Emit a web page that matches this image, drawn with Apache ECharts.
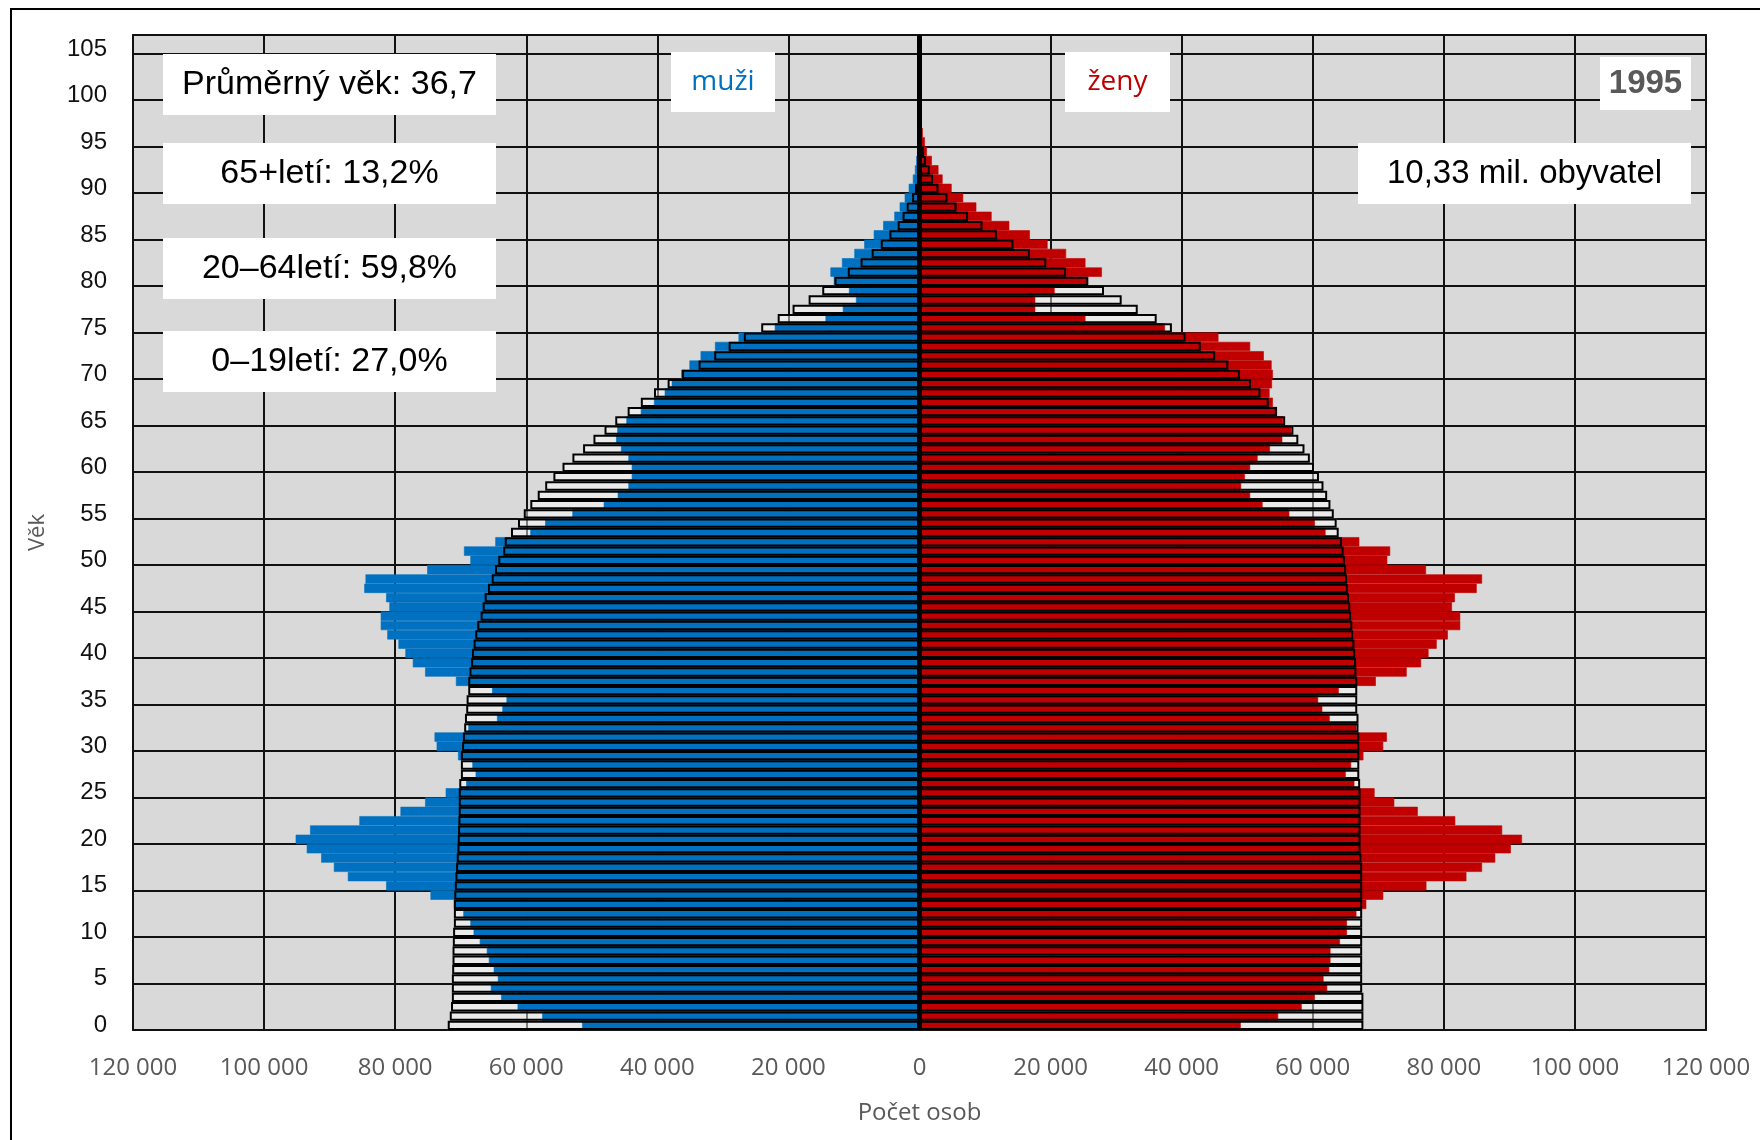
<!DOCTYPE html>
<html>
<head>
<meta charset="utf-8">
<title>Věková struktura 1995</title>
<script src="https://cdn.jsdelivr.net/npm/echarts@6/dist/echarts.min.js"></script>
<style>
  html, body { margin: 0; padding: 0; background: #fff; }
  #chart { width: 1760px; height: 1140px; }
</style>
</head>
<body>
<div id="chart"></div>
<script>
// ages 0..106 (category axis, label every 5 years)
const ages = [];
for (let i = 0; i <= 106; i++) ages.push(String(i));

// 1995 - men (blue bars)
const male1995 = [
  51480, 57560, 61320, 63830, 65400, 64330, 64960, 65710, 66020, 67090,
  68030, 68530, 69600, 71040, 74610, 81380, 87220, 89350, 91290, 93490,
  95180, 92980, 85460, 79190, 75430, 72290, 69160, 67720, 68220, 70410,
  73670, 73990, 68840, 64460, 63640, 63010, 65210, 70730, 75430, 77310,
  78440, 79500, 81200, 82200, 82200, 80880, 81380, 84710, 84520, 75110,
  68530, 69500, 64720, 59380, 57110, 52960, 48180, 46040, 44410, 43900,
  43900, 44410, 45540, 46290, 46110, 44720, 42520, 40510, 38870, 37800,
  36360, 35100, 33400, 31200, 27610, 22080, 14340, 11700, 9690, 10760,
  13080, 13590, 11830, 9940, 8430, 6980, 5540, 3840, 3020, 2260,
  1640, 1010, 690, 500, 300, 200, 120, 70, 40, 20,
  10, 0, 0, 0, 0, 0, 0
];

// 1995 - women (red bars)
const female1995 = [
  49010, 54720, 58310, 60320, 62200, 61640, 62520, 62700, 62700, 64150,
  65220, 65220, 66660, 68170, 70750, 77340, 83440, 85830, 87840, 90220,
  91920, 88900, 81740, 76020, 72440, 69430, 66350, 65030, 65850, 67730,
  70750, 71310, 66660, 62580, 61450, 60820, 63960, 69620, 74330, 76530,
  77660, 78910, 80610, 82500, 82500, 81240, 81680, 85010, 85830, 77280,
  71370, 71810, 67100, 61950, 60320, 56420, 52340, 50450, 49070, 49640,
  50450, 51580, 53470, 55350, 56740, 55480, 54540, 53910, 53410, 53780,
  53910, 53720, 52530, 50450, 45610, 37450, 25320, 17660, 17660, 20610,
  25630, 27830, 25320, 22370, 19540, 16840, 13700, 11000, 8670, 6660,
  4900, 3520, 2890, 1880, 1130, 820, 500, 300, 150, 80,
  40, 0, 0, 0, 0, 0, 0
];

// outlined bars (comparison profile) - men
const maleOutline = [
  71980, 71670, 71480, 71350, 71350, 71350, 71300, 71250, 71250, 71200,
  71160, 71040, 71040, 71040, 70980, 70900, 70800, 70700, 70600, 70500,
  70450, 70400, 70350, 70300, 70290, 70290, 70220, 69970, 69970, 69970,
  69790, 69660, 69470, 69350, 69160, 69100, 68850, 68850, 68660, 68410,
  68280, 68030, 67780, 67470, 66960, 66650, 66340, 65840, 65270, 64770,
  64270, 63510, 63280, 62330, 61260, 60380, 59380, 58250, 57110, 55860,
  54470, 52960, 51330, 49750, 48060, 46420, 44530, 42520, 40510, 38430,
  36230, 33710, 31320, 29120, 26800, 24150, 21640, 19370, 16920, 14840,
  12960, 10940, 8990, 7300, 5910, 4590, 3330, 2580, 1950, 1130,
  690, 380, 250, 120, 60, 30, 15, 0, 0, 0,
  0, 0, 0, 0, 0, 0, 0
];

// outlined bars (comparison profile) - women
const femaleOutline = [
  67730, 67730, 67730, 67730, 67540, 67540, 67540, 67540, 67540, 67540,
  67540, 67540, 67540, 67540, 67540, 67540, 67540, 67540, 67420, 67290,
  67290, 67290, 67290, 67290, 67290, 67290, 67230, 67100, 67100, 67100,
  67100, 67100, 66980, 66980, 66790, 66790, 66790, 66790, 66660, 66600,
  66470, 66350, 66160, 66030, 65850, 65720, 65530, 65340, 65220, 65090,
  64900, 64710, 64460, 63960, 63650, 63210, 62700, 62200, 61640, 60950,
  60190, 59560, 58740, 57800, 57050, 55790, 54540, 53280, 52020, 50580,
  48880, 47120, 45110, 42910, 40590, 38510, 36190, 33300, 30850, 28150,
  25760, 22370, 19350, 16840, 14330, 11810, 9610, 7410, 5650, 4270,
  2890, 2070, 1570, 1000, 690, 380, 200, 100, 50, 20,
  0, 0, 0, 0, 0, 0, 0
];

const xTicks = { min: -120000, max: 120000, step: 20000 };

// text boxes
const infoLeft = ['Průměrný věk: 36,7', '65+letí: 13,2%', '20–64letí: 59,8%', '0–19letí: 27,0%'];
const infoPopulation = '10,33 mil. obyvatel';
const infoYear = '1995';
const labelMen = 'muži';
const labelWomen = 'ženy';

const BLUE = '#0070C0';
const RED = '#C00000';
const SANS = '"Liberation Sans", Arial, sans-serif';
const CAL = '"Open Sans", "Noto Sans", sans-serif';

function fmt(v) {
  return String(Math.abs(v)).replace(/\B(?=(\d{3})+(?!\d))/g, ' ');
}

// white label box drawn above the grid lines
function box(x, y, w, h, text, style) {
  return {
    type: 'group',
    left: x,
    top: y,
    z: 100,
    children: [
      { type: 'rect', z: 100, shape: { x: 0, y: 0, width: w, height: h }, style: { fill: '#fff' } },
      {
        type: 'text',
        z: 101,
        x: w / 2,
        y: h / 2,
        style: Object.assign({
          text: text,
          align: 'center',
          verticalAlign: 'middle',
          fill: '#000',
          font: '34px ' + SANS
        }, style || {})
      }
    ]
  };
}

const chart = echarts.init(document.getElementById('chart'));

const leftBoxTops = [54, 143, 238, 331];
const graphics = infoLeft.map((t, i) => box(163, leftBoxTops[i], 333, 61, t));
graphics.push(box(671, 52, 104, 60, labelMen, { fill: BLUE, font: '28px ' + CAL }));
graphics.push(box(1065, 52, 105, 60, labelWomen, { fill: RED, font: '28px ' + CAL }));
graphics.push(box(1600, 57, 91, 53, infoYear, { fill: '#595959', font: 'bold 33px ' + SANS }));
graphics.push(box(1358, 143, 333, 61, infoPopulation, { font: '33px ' + SANS }));
// outer frame of the slide
graphics.push({
  type: 'polyline',
  z: 100,
  shape: { points: [[11, 1140], [11, 9], [1760, 9]] },
  style: { stroke: '#000', lineWidth: 2, fill: null }
});

const outlineStyle = {
  color: 'rgba(0,0,0,0)',
  borderColor: '#000',
  borderWidth: 2
};
const tintStyle = { color: 'rgba(255,255,255,0.45)' };

const option = {
  animation: false,
  grid: {
    left: 133,
    right: 54,
    top: 35,
    bottom: 110,
    show: true,
    backgroundColor: '#D9D9D9',
    borderColor: '#222',
    borderWidth: 2
  },
  xAxis: {
    type: 'value',
    min: xTicks.min,
    max: xTicks.max,
    interval: xTicks.step,
    name: 'Počet osob',
    nameLocation: 'middle',
    nameGap: 71,
    nameTextStyle: { color: '#595959', fontSize: 24, fontFamily: CAL },
    axisLine: { show: false },
    axisTick: { show: false },
    axisLabel: {
      formatter: fmt,
      margin: 26,
      color: '#595959',
      fontSize: 24,
      fontFamily: CAL
    },
    splitLine: { lineStyle: { color: '#111', width: 2 } }
  },
  yAxis: {
    type: 'category',
    data: ages,
    name: 'Věk',
    nameLocation: 'middle',
    nameGap: 84,
    nameTextStyle: { color: '#595959', fontSize: 22, fontFamily: CAL },
    axisLine: { show: false },
    axisTick: { show: false },
    axisLabel: {
      interval: (idx) => idx % 5 === 0,
      margin: 26,
      color: '#111',
      fontSize: 24,
      fontFamily: SANS
    },
    splitLine: {
      show: true,
      interval: (idx) => idx % 5 === 0,
      lineStyle: { color: '#111', width: 2 }
    }
  },
  series: [
    // light fill of the outline bars, behind everything
    {
      name: 'muži obrys podklad', type: 'bar', barGap: '-100%', barCategoryGap: '0%',
      data: maleOutline.map(v => -v), itemStyle: tintStyle, silent: true
    },
    {
      name: 'ženy obrys podklad', type: 'bar', barGap: '-100%', barCategoryGap: '0%',
      data: femaleOutline, itemStyle: tintStyle, silent: true
    },
    {
      name: 'muži', type: 'bar', barGap: '-100%', barCategoryGap: '0%',
      data: male1995.map(v => -v),
      itemStyle: { color: BLUE, borderColor: BLUE, borderWidth: 0.6 }
    },
    {
      name: 'ženy', type: 'bar', barGap: '-100%', barCategoryGap: '0%',
      data: female1995,
      itemStyle: { color: RED, borderColor: RED, borderWidth: 0.6 }
    },
    {
      name: 'muži obrys', type: 'bar', barGap: '-100%', barCategoryGap: '0%',
      data: maleOutline.map(v => -v), itemStyle: outlineStyle, silent: true,
      markLine: {
        silent: true,
        symbol: 'none',
        z: 10,
        label: { show: false },
        lineStyle: { color: '#000', width: 5, type: 'solid' },
        data: [{ xAxis: 0 }]
      }
    },
    {
      name: 'ženy obrys', type: 'bar', barGap: '-100%', barCategoryGap: '0%',
      data: femaleOutline, itemStyle: outlineStyle, silent: true
    }
  ],
  graphic: graphics
};

chart.setOption(option);
</script>
</body>
</html>
